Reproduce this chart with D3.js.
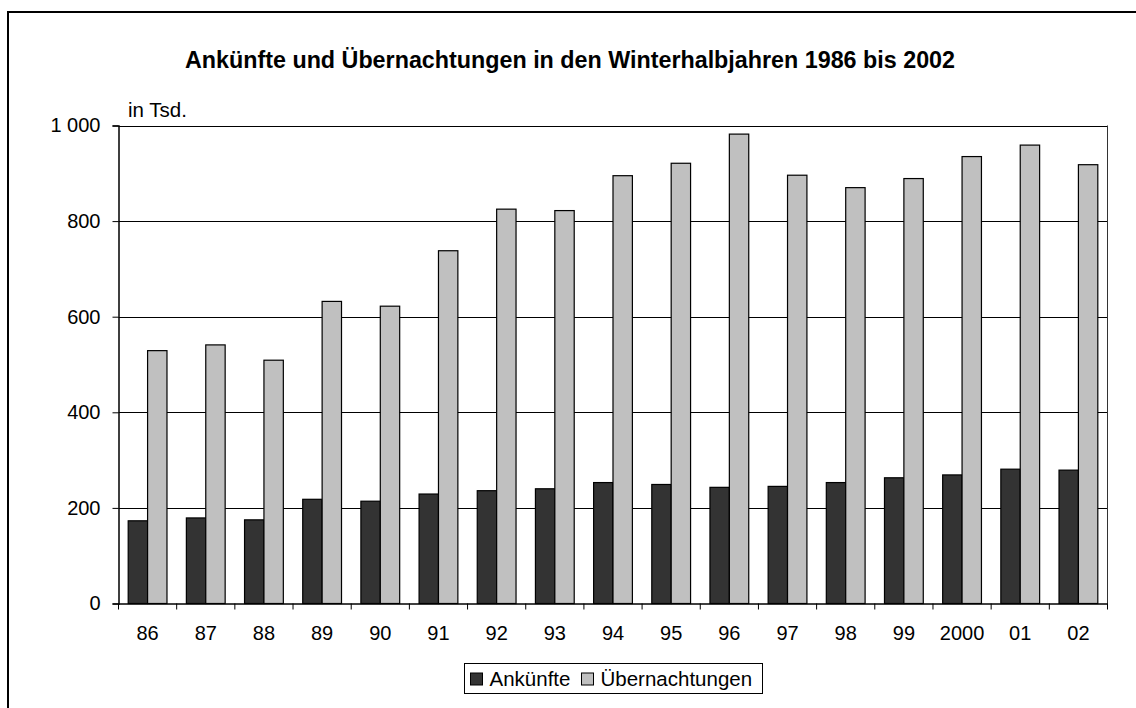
<!DOCTYPE html>
<html>
<head>
<meta charset="utf-8">
<script src="https://cdn.jsdelivr.net/npm/d3@7"></script>
<style>
  body { margin: 0; background: #fff; }
  svg { font-family: "Liberation Sans", Arial, sans-serif; }
</style>
</head>
<body>
<svg id="chart" width="1136" height="708"></svg>
<script>
var years = ['86', '87', '88', '89', '90', '91', '92', '93', '94', '95', '96', '97', '98', '99', '2000', '01', '02']
var ankuenfte = [173, 179, 175, 218, 214, 229, 236, 240, 253, 249, 243, 245, 253, 263, 269, 281, 279]
var uebernachtungen = [529, 541, 509, 632, 622, 738, 825, 822, 895, 921, 982, 896, 870, 889, 935, 959, 918]
var seriesNames = ['Ankünfte', 'Übernachtungen']
var seriesColors = ['#333333', '#c0c0c0']
var yTicks = [0, 200, 400, 600, 800, 1000]

var svg = d3.select('#chart')

// outer frame, runs off the picture at right and bottom
svg.append('rect')
  .attr('x', 8).attr('y', 12).attr('width', 1140).attr('height', 720)
  .attr('fill', 'none').attr('stroke', '#000').attr('stroke-width', 2)

var margin = {left: 118.5, top: 125.5, right: 1107.5, bottom: 603.5}

var x = d3.scaleBand().domain(years).range([margin.left, margin.right])
var inner = d3.scaleBand().domain([0, 1]).range([0, x.bandwidth()]).paddingOuter(0.5)
var y = d3.scaleLinear().domain([0, 1000]).range([margin.bottom, margin.top])

svg.append('text')
  .attr('x', 570).attr('y', 68)
  .attr('text-anchor', 'middle')
  .attr('font-size', 23.3).attr('font-weight', 'bold')
  .text('Ankünfte und Übernachtungen in den Winterhalbjahren 1986 bis 2002')

svg.append('text')
  .attr('x', 128).attr('y', 117)
  .attr('font-size', 20.5)
  .text('in Tsd.')

// gridlines
svg.append('g')
  .selectAll('line')
  .data(yTicks.filter(d => d > 0))
  .join('line')
  .attr('x1', margin.left).attr('x2', margin.right)
  .attr('y1', d => Math.round(y(d)) + 0.5).attr('y2', d => Math.round(y(d)) + 0.5)
  .attr('stroke', '#000').attr('stroke-width', 1)

// plot area right border
svg.append('line')
  .attr('x1', margin.right).attr('x2', margin.right)
  .attr('y1', margin.top).attr('y2', margin.bottom)
  .attr('stroke', '#333')

var data = years.map((yr, i) => ({year: yr, values: [ankuenfte[i], uebernachtungen[i]]}))

svg.append('g')
  .selectAll('g')
  .data(data)
  .join('g')
  .attr('transform', d => `translate(${x(d.year)},0)`)
  .selectAll('rect')
  .data(d => d.values.map((v, k) => ({k, v})))
  .join('rect')
  .attr('x', d => inner(d.k))
  .attr('width', inner.bandwidth())
  .attr('y', d => y(d.v))
  .attr('height', d => y(0) - y(d.v))
  .attr('fill', d => seriesColors[d.k])
  .attr('stroke', '#000').attr('stroke-width', 1.2)

// y axis
var yAxis = svg.append('g')
  .attr('transform', `translate(${margin.left},0)`)
  .call(d3.axisLeft(y).tickValues(yTicks).tickSize(6).tickPadding(12)
    .tickFormat(d => d3.format(',')(d).replace(',', ' ')))
yAxis.select('.domain').attr('stroke', '#000').attr('stroke-width', 1.5)
yAxis.selectAll('text').attr('font-size', 20).attr('fill', '#000').attr('font-family', 'Liberation Sans, Arial, sans-serif')
yAxis.selectAll('line').attr('stroke', '#000')

// x axis
var xAxis = svg.append('g')
  .attr('transform', `translate(0,${margin.bottom})`)
  .call(d3.axisBottom(x).tickSize(0).tickPadding(22))
xAxis.select('.domain').attr('stroke', '#000').attr('stroke-width', 1.5)
xAxis.selectAll('text').attr('font-size', 20).attr('fill', '#000').attr('font-family', 'Liberation Sans, Arial, sans-serif')

// category boundary ticks
xAxis.append('g')
  .selectAll('line')
  .data(d3.range(years.length + 1))
  .join('line')
  .attr('x1', i => margin.left + i * x.step()).attr('x2', i => margin.left + i * x.step())
  .attr('y1', 0).attr('y2', 6)
  .attr('stroke', '#000')

// legend
var legend = svg.append('g').attr('transform', 'translate(464.5,663.5)')
legend.append('rect')
  .attr('width', 298).attr('height', 30)
  .attr('fill', '#fff').attr('stroke', '#000')

var legendX = [6, 117]
var item = legend.selectAll('g.item')
  .data(seriesNames)
  .join('g').attr('class', 'item')
  .attr('transform', (d, i) => `translate(${legendX[i]},0)`)
item.append('rect')
  .attr('y', 9.5).attr('width', 12).attr('height', 12)
  .attr('fill', (d, i) => seriesColors[i]).attr('stroke', '#000')
item.append('text')
  .attr('x', 19).attr('y', 22.5)
  .attr('font-size', 20.5)
  .text(d => d)
</script>
</body>
</html>
